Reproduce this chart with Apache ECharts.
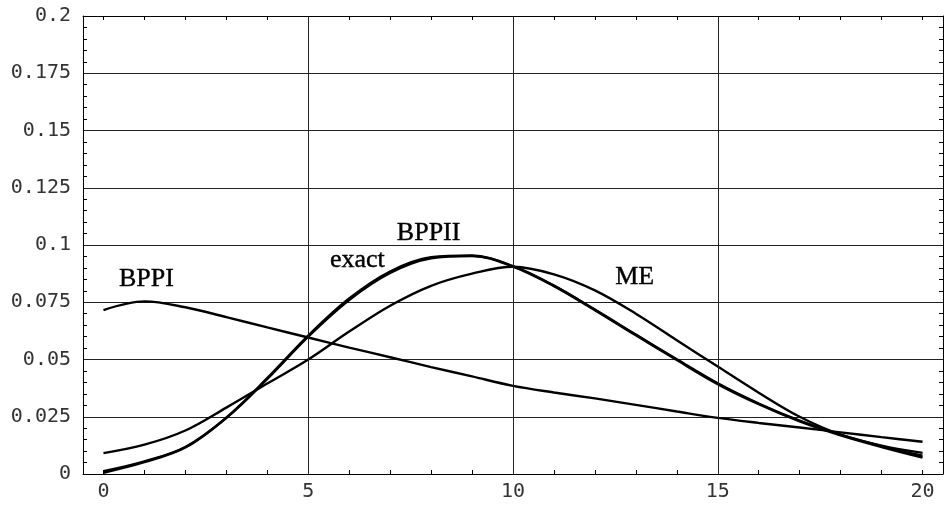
<!DOCTYPE html>
<html>
<head>
<meta charset="utf-8">
<script src="https://cdn.jsdelivr.net/npm/echarts@6/dist/echarts.min.js"></script>
<style>
  html, body { margin: 0; padding: 0; background: #fff; }
  #chart { width: 944px; height: 506px; }
</style>
</head>
<body>
<div id="chart"></div>
<script>
// x positions (0..20) shared by all curves
const xs = [0, 1, 2, 3, 4, 5, 6, 7, 8, 9, 10, 11, 12, 13, 14, 15, 16, 17, 18, 19, 20];

// probability values per method
const bppi  = [0.0716, 0.0754, 0.0728, 0.0685, 0.0640, 0.0596, 0.0552, 0.0510, 0.0467, 0.0426, 0.0385,
               0.0356, 0.0330, 0.0302, 0.0273, 0.0245, 0.0223, 0.0203, 0.0182, 0.0161, 0.0141];
const me    = [0.0091, 0.0128, 0.0190, 0.0290, 0.0395, 0.0500, 0.0622, 0.0735, 0.0822, 0.0875, 0.0905,
               0.0872, 0.0802, 0.0700, 0.0584, 0.0469, 0.0355, 0.0250, 0.0172, 0.0124, 0.0092];
const exact = [0.0012, 0.0055, 0.0118, 0.0245, 0.0415, 0.0600, 0.0760, 0.0878, 0.0942, 0.0952, 0.0908,
               0.0823, 0.0718, 0.0609, 0.0501, 0.0396, 0.0308, 0.0233, 0.0172, 0.0122, 0.0080];
const bppii = [0.0006, 0.0052, 0.0116, 0.0246, 0.0418, 0.0604, 0.0766, 0.0884, 0.0946, 0.0954, 0.0906,
               0.0821, 0.0716, 0.0606, 0.0498, 0.0393, 0.0305, 0.0230, 0.0169, 0.0118, 0.0072];

// axis ticks
const xLabelTicks = [0, 5, 10, 15, 20];
const xGridLines = [5, 10, 15];

// curve name labels, anchored in data coordinates
const curveLabels = [
  { name: 'BPPI',  at: [1.05, 0.0852] },
  { name: 'exact', at: [6.2, 0.0934] },
  { name: 'BPPII', at: [7.94, 0.1052] },
  { name: 'ME',    at: [12.97, 0.0860] }
];

const ink = '#000';
const tickFont = { fontFamily: 'DejaVu Sans Mono', fontSize: 20, color: '#333' };

function pairs(vals) { return xs.map((x, i) => [x, vals[i]]); }

function curve(name, vals, width) {
  return {
    name: name,
    type: 'line',
    xAxisIndex: 0,
    yAxisIndex: 0,
    data: pairs(vals),
    smooth: 0.35,
    showSymbol: false,
    symbol: 'none',
    lineStyle: { color: ink, width: width },
    silent: true
  };
}

const chart = echarts.init(document.getElementById('chart'), null, { renderer: 'canvas' });

const series = [
  curve('BPPI', bppi, 2.4),
  curve('ME', me, 2.4),
  curve('exact', exact, 2.4),
  curve('BPPII', bppii, 2.6)
];

// vertical grid lines at the labelled x values
series[0].markLine = {
  silent: true,
  symbol: ['none', 'none'],
  label: { show: false },
  lineStyle: { color: '#222', width: 1, type: 'solid' },
  emphasis: { disabled: true },
  data: xGridLines.map(v => ({ xAxis: v }))
};

// curve name annotations
series.push({
  name: 'labels',
  type: 'scatter',
  xAxisIndex: 0,
  yAxisIndex: 0,
  symbolSize: 0,
  silent: true,
  itemStyle: { opacity: 1 },
  data: curveLabels.map(l => ({ name: l.name, value: l.at })),
  label: {
    show: true,
    position: 'inside',
    formatter: '{b}',
    fontFamily: 'Liberation Serif',
    fontSize: 26,
    color: '#000',
    opacity: 1,
    textBorderColor: '#000',
    textBorderWidth: 0.4
  }
});

const xBase = {
  type: 'value',
  min: -0.5,
  max: 20.5,
  axisLine: { show: true, onZero: false, lineStyle: { color: ink, width: 1 } },
  axisTick: { show: true, inside: true, length: 4, customValues: xs, lineStyle: { color: ink } },
  splitLine: { show: false }
};

const yBase = {
  type: 'value',
  min: 0,
  max: 0.2,
  interval: 0.025,
  axisLine: { show: true, onZero: false, lineStyle: { color: ink, width: 1 } },
  axisTick: { show: false, inside: true },
  minorTick: { show: true, splitNumber: 5, length: 4, lineStyle: { color: ink, width: 1 } },
  splitLine: { show: false }
};

chart.setOption({
  animation: false,
  backgroundColor: '#fff',
  grid: { left: 83, right: 1, top: 16, bottom: 32, containLabel: false },
  xAxis: [
    Object.assign({}, xBase, {
      position: 'bottom',
      axisLabel: Object.assign({ show: true, margin: 8, customValues: xLabelTicks }, tickFont)
    }),
    Object.assign({}, xBase, {
      position: 'top',
      axisLabel: { show: false }
    })
  ],
  yAxis: [
    Object.assign({}, yBase, {
      position: 'left',
      splitLine: { show: true, lineStyle: { color: '#222', width: 1 } },
      axisLabel: Object.assign({ show: true, margin: 12 }, tickFont)
    }),
    Object.assign({}, yBase, {
      position: 'right',
      axisLabel: { show: false }
    })
  ],
  series: series
});
</script>
</body>
</html>
